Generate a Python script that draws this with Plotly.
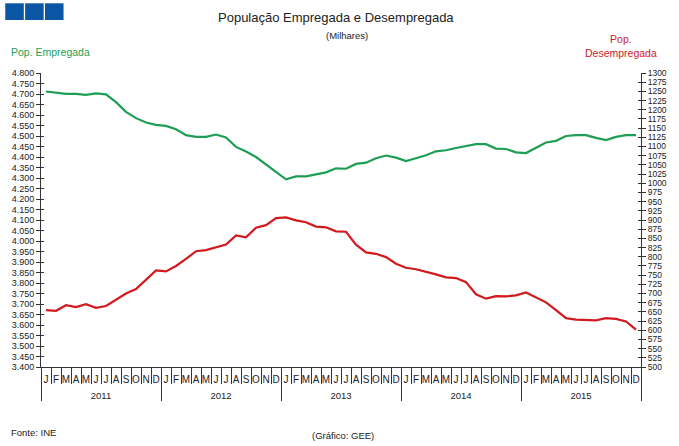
import plotly.graph_objects as go

# ---------------- data ----------------
month_letters = ["J", "F", "M", "A", "M", "J", "J", "A", "S", "O", "N", "D"]
years = ["2011", "2012", "2013", "2014", "2015"]

pop_empregada = [
    4712, 4706, 4701, 4701, 4696, 4703, 4698, 4661, 4615, 4585, 4564, 4553,
    4548, 4532, 4504, 4496, 4496, 4507, 4493, 4448, 4426, 4400, 4364, 4330,
    4294, 4308, 4308, 4317, 4327, 4346, 4344, 4367, 4373, 4394, 4407, 4397,
    4381, 4394, 4408, 4427, 4432, 4443, 4453, 4461, 4461, 4440, 4438, 4422,
    4419, 4443, 4469, 4477, 4500, 4504, 4504, 4491, 4481, 4496, 4504, 4504,
]
pop_desempregada = [
    655, 653, 668, 663, 671, 661, 666, 683, 700, 712, 738, 763,
    760, 775, 794, 815, 818, 825, 833, 858, 853, 879, 886, 905,
    907, 899, 894, 882, 880, 869, 868, 833, 812, 808, 799, 781,
    770, 766, 760, 752, 744, 742, 731, 698, 686, 693, 692, 695,
    703, 689, 676, 655, 633, 629, 627, 627, 633, 631, 624, 602,
]

n = len(pop_empregada)
idx = list(range(n))
tick_letters = month_letters * len(years)
year_centers = [i * 12 + 5.5 for i in range(len(years))]
year_bounds = [i * 12 - 0.5 for i in range(len(years) + 1)]

GREEN = "#1E9E55"
RED = "#D2191F"
TXT = "#222222"
AX = "#333333"
FONT = "Liberation Sans, Arial, sans-serif"

W, H = 679, 446
L, R, T, B = 40, 644, 73, 367


def px(x):
    return (x - L) / (R - L)


def py(y):
    return (B - y) / (B - T)


fig = go.Figure()
fig.add_trace(go.Scatter(x=idx, y=pop_empregada, mode="lines",
                         line=dict(color=GREEN, width=2.2), xaxis="x", yaxis="y",
                         showlegend=False, hoverinfo="skip"))
fig.add_trace(go.Scatter(x=idx, y=pop_desempregada, mode="lines",
                         line=dict(color=RED, width=2.2), xaxis="x", yaxis="y2",
                         showlegend=False, hoverinfo="skip"))
# helper traces so the overlay axes are drawn
for xa, ya in [("x2", "y"), ("x3", "y"), ("x", "y3"), ("x", "y4")]:
    fig.add_trace(go.Scatter(x=[None], y=[None], xaxis=xa, yaxis=ya,
                             showlegend=False, hoverinfo="skip"))

xr = [-0.5, n - 0.5]
fig.update_layout(
    width=W, height=H,
    margin=dict(l=L, r=W - R, t=T, b=H - B, pad=0),
    paper_bgcolor="white", plot_bgcolor="white",
    separators=",.",
    font=dict(family=FONT, size=10, color=TXT),
    hovermode=False,
    xaxis=dict(range=xr, tickmode="array", tickvals=year_bounds,
               ticktext=[""] * len(year_bounds), ticks="outside", ticklen=33,
               tickcolor=AX, tickwidth=1, showline=True, linecolor=AX,
               linewidth=1, showgrid=False, zeroline=False,
               minor=dict(tickmode="linear", tick0=-0.5, dtick=1,
                          ticks="outside", ticklen=16, tickcolor=AX,
                          tickwidth=1, showgrid=False)),
    xaxis2=dict(range=xr, overlaying="x", anchor="y", side="bottom",
                tickmode="array", tickvals=idx, ticktext=tick_letters,
                ticks="", showline=False, showgrid=False, zeroline=False,
                tickfont=dict(size=10, color=TXT), ticklabelstandoff=5),
    xaxis3=dict(range=xr, overlaying="x", anchor="y", side="bottom",
                tickmode="array", tickvals=year_centers, ticktext=years,
                ticks="", showline=False, showgrid=False, zeroline=False,
                tickfont=dict(size=9.5, color=TXT), ticklabelstandoff=21),
    yaxis=dict(range=[3400, 4800], tickmode="linear", tick0=3400, dtick=50,
               tickformat=",d", ticks="outside", ticklen=4, tickcolor=AX,
               showline=True, linecolor=AX, linewidth=1, showgrid=False,
               zeroline=False, tickfont=dict(size=9, color=TXT)),
    yaxis2=dict(range=[500, 1300], overlaying="y", side="right",
                tickmode="linear", tick0=500, dtick=25, tickformat="d",
                ticks="outside", ticklen=4, tickcolor=AX, showline=True,
                linecolor=AX, linewidth=1, showgrid=False, zeroline=False,
                tickfont=dict(size=8.5, color=TXT)),
    yaxis3=dict(range=[3400, 4800], overlaying="y", side="left",
                tickmode="linear", tick0=3400, dtick=50, ticks="inside",
                ticklen=3, tickcolor=AX, showticklabels=False, showline=False,
                showgrid=False, zeroline=False),
    yaxis4=dict(range=[500, 1300], overlaying="y", side="right",
                tickmode="linear", tick0=500, dtick=25, ticks="inside",
                ticklen=3, tickcolor=AX, showticklabels=False, showline=False,
                showgrid=False, zeroline=False),
)

ann = [
    dict(text="População Empregada e Desempregada", x=px(337), y=py(18),
         font=dict(size=13, color=TXT)),
    dict(text="(Milhares)", x=px(348), y=py(35), font=dict(size=9.5, color=TXT)),
    dict(text="Pop. Empregada", x=px(8), y=py(52), xanchor="left",
         font=dict(size=10.5, color=GREEN)),
    dict(text="Pop.<br>Desempregada", x=px(624), y=py(46),
         font=dict(size=10.5, color=RED)),
    dict(text="Fonte: INE", x=px(8), y=py(432), xanchor="left",
         font=dict(size=9.5, color=TXT)),
    dict(text="(Gráfico: GEE)", x=px(344), y=py(435),
         font=dict(size=9.5, color=TXT)),
]
for a in ann:
    a.setdefault("xanchor", "center")
    fig.add_annotation(xref="paper", yref="paper", yanchor="middle",
                       showarrow=False, **a)

# logo: three blue squares
for x0 in [4, 24, 44]:
    fig.add_shape(type="rect", xref="paper", yref="paper",
                  x0=px(x0), x1=px(x0 + 18.7), y0=py(20), y1=py(3.3),
                  fillcolor="#0B56A4", line=dict(width=0))

fig.write_html(
    "out.html",
    config={"displayModeBar": False, "staticPlot": True},
    post_script="document.body.style.margin='0';document.body.style.overflow='hidden';",
)
